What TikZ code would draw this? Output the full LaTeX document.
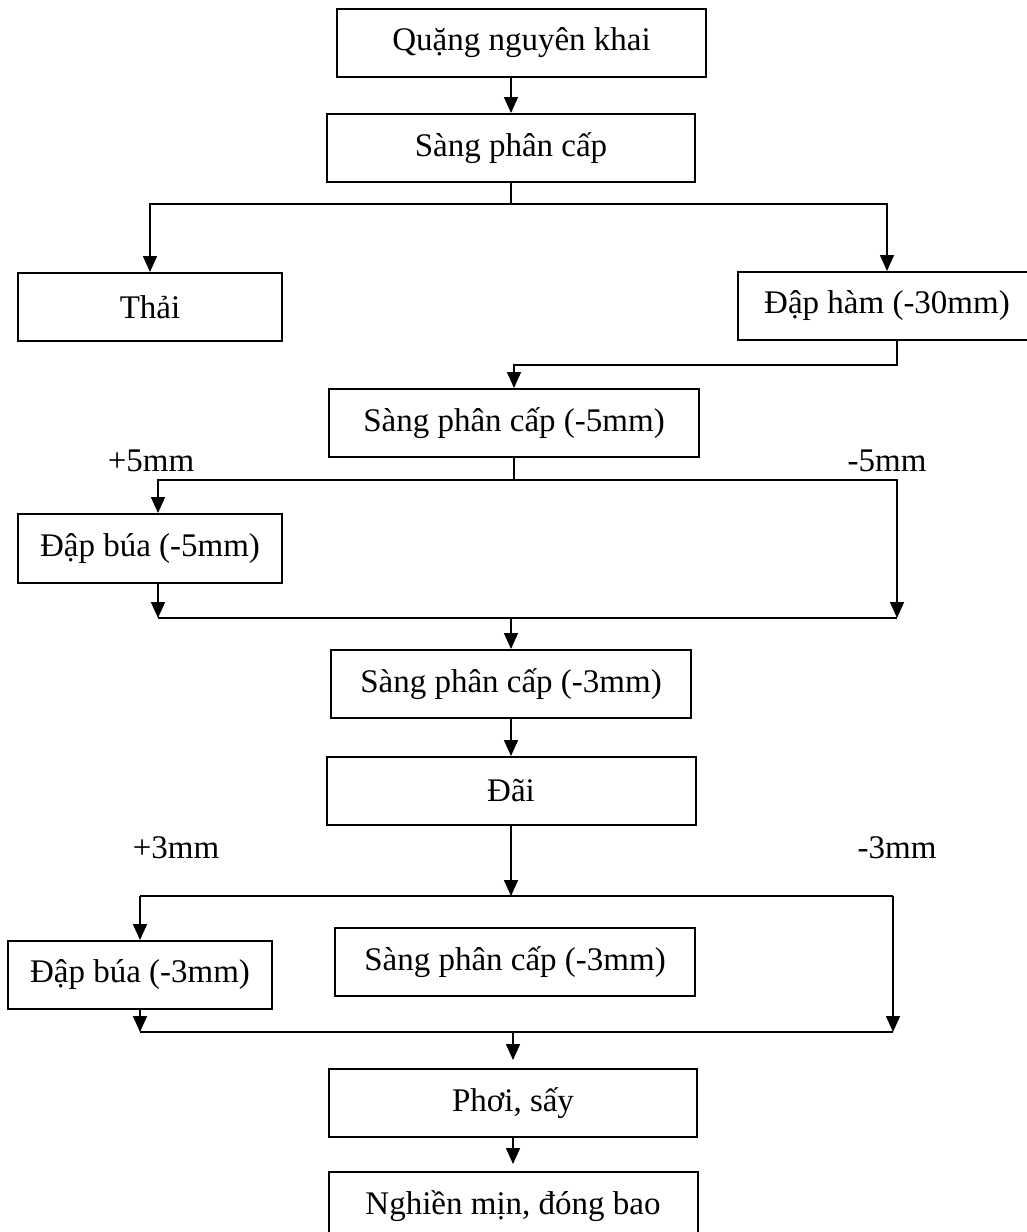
\documentclass[tikz,border=0pt]{standalone}
\usepackage{fontspec}
\setmainfont{Liberation Serif}
\usepackage{tikz}
\usetikzlibrary{arrows.meta,positioning}

\begin{document}
\begin{tikzpicture}[
    x=1pt, y=1pt,
    line width=0.8pt,
    >={Triangle[width=7pt,length=8pt]},
    procbox/.style={draw, line width=1pt, minimum height=34pt, inner sep=0pt,
        font=\fontsize{16.5}{20}\selectfont},
    lbl/.style={font=\fontsize{16.5}{20}\selectfont, inner sep=0pt}
]
\clip (0,0) rectangle (513.5,-616);

\node[procbox, minimum width=184.5pt] (Q) at (260.75,-21.5) {Quặng nguyên khai};
\node[procbox, minimum width=184pt] (S1) [below=17.5pt of Q, xshift=-5.25pt] {Sàng phân cấp};
\node[procbox, minimum width=132pt] (Thai) at (75,-153.5) {Thải};
\node[procbox, minimum width=149pt] (DH) at (443.5,-153) {Đập hàm (-30mm)};
\node[procbox, minimum width=185pt] (S2) at (257,-211.5) {Sàng phân cấp (-5mm)};
\node[procbox, minimum width=132pt, minimum height=34.5pt] (DB5) at (75,-274.25) {Đập búa (-5mm)};
\node[procbox, minimum width=180pt] (S3) at (255.5,-342) {Sàng phân cấp (-3mm)};
\node[procbox, minimum width=184.5pt] (Dai) [below=18.5pt of S3] {Đãi};
\node[procbox, minimum width=132pt] (DB3) at (70,-487.5) {Đập búa (-3mm)};
\node[procbox, minimum width=180pt] (S4) at (257.5,-481) {Sàng phân cấp (-3mm)};
\node[procbox, minimum width=184pt] (Phoi) at (256.5,-551.5) {Phơi, sấy};
\node[procbox, minimum width=184.5pt] (NM) [below=16.5pt of Phoi] {Nghiền mịn, đóng bao};

\node[lbl] (p5) at (75.5,-230.5) {+5mm};
\node[lbl] (m5) at (443.5,-230.5) {-5mm};
\node[lbl] (p3) at (88,-424) {+3mm};
\node[lbl] (m3) at (448.5,-424) {-3mm};

\draw[->] (S1.north |- Q.south) -- (S1.north);
\draw (S1.south) -- ++(0,-10.5) coordinate (sp1);
\draw[->] (sp1) -| (Thai.north);
\draw[->] (sp1) -| (DH.north);
\draw[->] ([xshift=5pt]DH.south) -- ++(0,-12) -| (S2.north);

\coordinate (r2) at (448.5,-309);
\draw (S2.south) -- ++(0,-11) coordinate (sp2);
\draw[->] (sp2) -| ([xshift=4pt]DB5.north);
\draw[->] (sp2) -| (r2);
\draw[->] ([xshift=4pt]DB5.south) -- ([xshift=4pt]DB5.south |- r2);
\draw ([xshift=4pt]DB5.south |- r2) -- (r2);
\draw[->] (S3.north |- r2) -- (S3.north);
\draw[->] (S3.south) -- (S3.south |- Dai.north);

\coordinate (r3) at (446.5,-448);
\coordinate (q3) at (446.5,-516);
\draw[->] (Dai.south) -- (Dai.south |- r3);
\draw (DB3.north |- r3) -- (r3);
\draw[->] (DB3.north |- r3) -- (DB3.north);
\draw[->] (r3) -- (q3);
\draw[->] (DB3.south) -- (DB3.south |- q3);
\draw (DB3.south |- q3) -- (q3);
\draw[->, shorten >=4pt] (Phoi.north |- q3) -- (Phoi.north);
\draw[->, shorten >=3.5pt] (Phoi.south) -- (NM.north);
\end{tikzpicture}
\end{document}
